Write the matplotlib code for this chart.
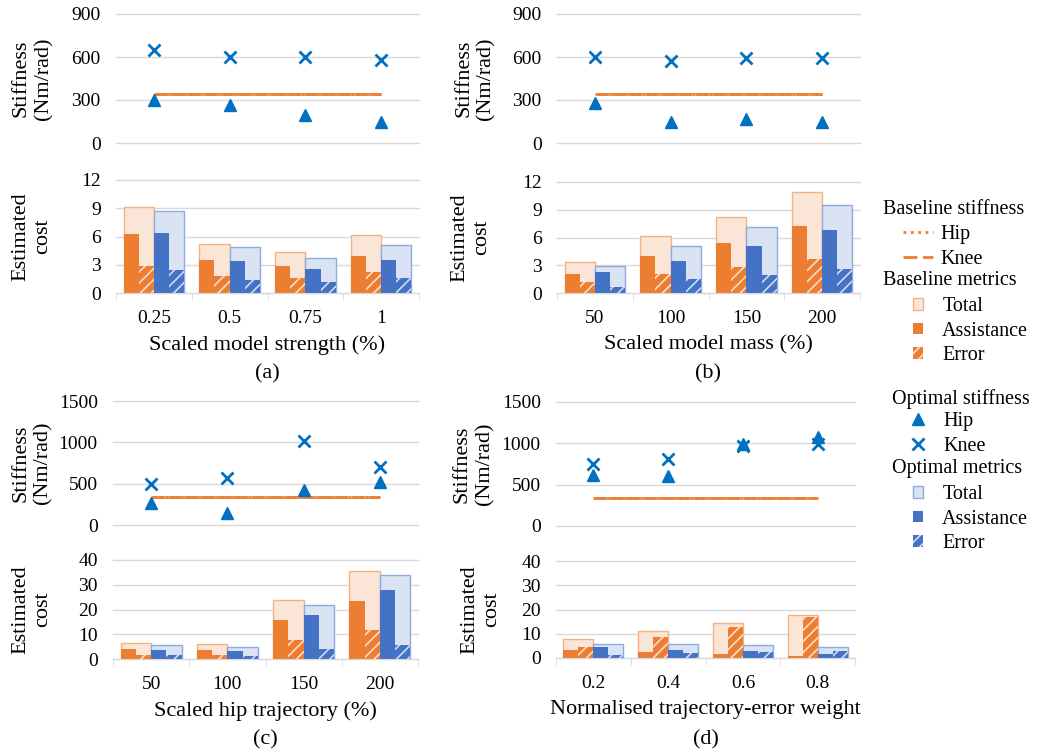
import matplotlib
matplotlib.use("Agg")
import matplotlib.pyplot as plt
from matplotlib.lines import Line2D
from matplotlib.patches import Patch

plt.rcParams['font.family'] = ['Liberation Serif', 'DejaVu Serif']
plt.rcParams['hatch.linewidth'] = 1.2

W, H = 1037, 755

ORANGE = '#ED7D31'
ORANGE_LIGHT = '#FBE5D6'
ORANGE_EDGE = '#F4B183'
BLUE = '#4472C4'
BLUE_LIGHT = '#DAE3F3'
BLUE_EDGE = '#8FAADC'
MARK = '#0070C0'
GRID = '#D9D9D9'
HATCH = (1, 1, 1, 0.75)

# ---- data ----
labels_a = ['0.25', '0.5', '0.75', '1']
labels_b = ['50', '100', '150', '200']
labels_c = ['50', '100', '150', '200']
labels_d = ['0.2', '0.4', '0.6', '0.8']

baseline_hip = [340, 340, 340, 340]
baseline_knee = [340, 340, 340, 340]

hip_a = [298, 267, 195, 144]
knee_a = [650, 600, 600, 580]
hip_b = [280, 150, 170, 150]
knee_b = [600, 575, 590, 590]
hip_c = [261, 149, 422, 523]
knee_c = [495, 567, 1021, 696]
hip_d = [615, 607, 997, 1077]
knee_d = [748, 812, 973, 989]

base_total_a = [9.1, 5.22, 4.34, 6.14]
base_assist_a = [6.25, 3.53, 2.82, 3.95]
base_error_a = [2.82, 1.76, 1.55, 2.19]
opt_total_a = [8.75, 4.87, 3.71, 5.08]
opt_assist_a = [6.35, 3.39, 2.58, 3.46]
opt_error_a = [2.4, 1.41, 1.16, 1.62]

base_total_b = [3.33, 6.13, 8.17, 10.93]
base_assist_b = [2.08, 4.01, 5.38, 7.24]
base_error_b = [1.22, 2.08, 2.8, 3.66]
opt_total_b = [2.97, 5.05, 7.1, 9.46]
opt_assist_b = [2.29, 3.51, 5.09, 6.81]
opt_error_b = [0.65, 1.54, 1.9, 2.58]

base_total_c = [6.4, 6.0, 23.8, 35.4]
base_assist_c = [4.0, 3.8, 15.8, 23.6]
base_error_c = [1.7, 1.7, 7.8, 11.8]
opt_total_c = [5.6, 5.0, 22.0, 33.8]
opt_assist_c = [3.8, 3.4, 17.9, 27.9]
opt_error_c = [1.6, 1.3, 4.0, 5.8]

base_total_d = [7.8, 11.1, 14.4, 17.7]
base_assist_d = [3.4, 2.5, 1.6, 0.8]
base_error_d = [4.4, 8.5, 12.6, 17.1]
opt_total_d = [5.75, 5.75, 5.3, 4.7]
opt_assist_d = [4.5, 3.4, 2.7, 1.5]
opt_error_d = [1.2, 2.2, 2.3, 3.0]


def box(l, t, r, b):
    return [l / W, 1 - b / H, (r - l) / W, (b - t) / H]


def style_axes(ax, ymax, step):
    ax.set_xlim(-0.5, 3.5)
    ax.set_ylim(0, ymax)
    ax.set_yticks(range(0, ymax + 1, step))
    ax.grid(axis='y', color=GRID, lw=1)
    ax.set_axisbelow(True)
    for gl in ax.get_ygridlines():
        gl.set_clip_on(False)
    for s in ax.spines.values():
        s.set_visible(False)
    ax.tick_params(axis='y', length=0, pad=11, labelsize=14)


def panel(top_px, bot_px, labels, hip, knee, bt, ba, be, ot, oa, oe,
          smax, sstep, cmax, cstep, xlabel, tag, ylab_x, tag_y):
    x = list(range(len(labels)))
    ax1 = fig.add_axes(box(*top_px))
    style_axes(ax1, smax, sstep)
    ax1.set_xticks([])
    # hip (dotted) and knee (dashed) baselines overlap and read as one solid line
    ax1.plot(x, baseline_knee, color=ORANGE, lw=2, ls=(0, (5, 1)))
    ax1.plot(x, baseline_hip, color=ORANGE, lw=2, ls=(1, (1, 1)))
    ax1.plot(x, hip, ls='none', marker='^', ms=9, color=MARK)
    ax1.plot(x, knee, ls='none', marker='x', ms=8, mew=2, color=MARK)

    ax2 = fig.add_axes(box(*bot_px))
    style_axes(ax2, cmax, cstep)
    ax2.spines['bottom'].set_visible(True)
    ax2.spines['bottom'].set_color(GRID)
    xb = [i - 0.2 for i in x]
    xo = [i + 0.2 for i in x]
    ax2.bar(xb, bt, width=0.4, color=ORANGE_LIGHT, edgecolor=ORANGE_EDGE, lw=1)
    ax2.bar(xo, ot, width=0.4, color=BLUE_LIGHT, edgecolor=BLUE_EDGE, lw=1)
    ax2.bar([i - 0.3 for i in x], ba, width=0.2, color=ORANGE, lw=0)
    ax2.bar([i - 0.1 for i in x], be, width=0.2, color=ORANGE, edgecolor=HATCH, lw=0, hatch='///')
    ax2.bar([i + 0.1 for i in x], oa, width=0.2, color=BLUE, lw=0)
    ax2.bar([i + 0.3 for i in x], oe, width=0.2, color=BLUE, edgecolor=HATCH, lw=0, hatch='///')
    ax2.set_xticks(x)
    ax2.set_xticklabels(labels, fontsize=14)
    ax2.set_xticks([i - 0.5 for i in range(len(labels) + 1)], minor=True)
    ax2.tick_params(axis='x', which='major', length=0, pad=12)
    ax2.tick_params(axis='x', which='minor', length=5, color=GRID)
    ax2.set_xlabel(xlabel, fontsize=16, labelpad=6)

    l1, t1, r1, b1 = top_px
    l2, t2, r2, b2 = bot_px
    fig.text(ylab_x[0] / W, 1 - (t1 + b1) / 2 / H, 'Stiffness\n(Nm/rad)', rotation=90,
             ha='center', va='center', fontsize=16, linespacing=1.2)
    fig.text(ylab_x[1] / W, 1 - (t2 + b2) / 2 / H, 'Estimated\ncost', rotation=90,
             ha='center', va='center', fontsize=16, linespacing=1.2)
    fig.text((l2 + r2) / 2 / W, 1 - tag_y / H, tag, ha='center', va='center', fontsize=16)


fig = plt.figure(figsize=(W / 100, H / 100), dpi=100)

panel((116, 14, 419, 143), (116, 180, 419, 293), labels_a, hip_a, knee_a,
      base_total_a, base_assist_a, base_error_a, opt_total_a, opt_assist_a, opt_error_a,
      900, 300, 12, 3, 'Scaled model strength (%)', '(a)', (32.5, 32), 374)
panel((557, 14, 860, 143), (557, 182, 860, 293), labels_b, hip_b, knee_b,
      base_total_b, base_assist_b, base_error_b, opt_total_b, opt_assist_b, opt_error_b,
      900, 300, 12, 3, 'Scaled model mass (%)', '(b)', (475, 471), 374)
panel((113, 401, 418, 525), (113, 560, 418, 659), labels_c, hip_c, knee_c,
      base_total_c, base_assist_c, base_error_c, opt_total_c, opt_assist_c, opt_error_c,
      1500, 500, 40, 10, 'Scaled hip trajectory (%)', '(c)', (32, 32), 740)
panel((556, 402, 855, 526), (556, 561, 855, 658), labels_d, hip_d, knee_d,
      base_total_d, base_assist_d, base_error_d, opt_total_d, opt_assist_d, opt_error_d,
      1500, 500, 40, 10, 'Normalised trajectory-error weight', '(d)', (473.5, 481), 740)

# ---- legend ----
LFS = 14.5


def header(txt, x, y):
    fig.text(x / W, 1 - y / H, txt, ha='left', va='center', fontsize=LFS)


def block(handles, names, x, y, hl, hh, pad):
    fig.legend(handles, names, loc='upper left', bbox_to_anchor=(x / W, 1 - y / H),
               frameon=False, fontsize=LFS, handlelength=hl, handleheight=hh,
               handletextpad=pad, labelspacing=0.28, borderpad=0, borderaxespad=0)


header('Baseline stiffness', 883, 209)
block([Line2D([], [], color=ORANGE, lw=2, ls=':'),
       Line2D([], [], color=ORANGE, lw=2, ls=(0, (5, 2)))],
      ['Hip', 'Knee'], 903, 225, 1.5, 0.7, 0.35)
header('Baseline metrics', 883, 281)
block([Patch(facecolor=ORANGE_LIGHT, edgecolor=ORANGE_EDGE, lw=1),
       Patch(facecolor=ORANGE, lw=0),
       Patch(facecolor=ORANGE, edgecolor=HATCH, lw=0, hatch='///')],
      ['Total', 'Assistance', 'Error'], 913, 297, 0.5, 0.5, 0.95)
header('Optimal stiffness', 892, 399)
block([Line2D([], [], ls='none', marker='^', ms=9, color=MARK),
       Line2D([], [], ls='none', marker='x', ms=8, mew=2, color=MARK)],
      ['Hip', 'Knee'], 908, 412, 1.0, 0.7, 0.75)
header('Optimal metrics', 892, 469)
block([Patch(facecolor=BLUE_LIGHT, edgecolor=BLUE_EDGE, lw=1),
       Patch(facecolor=BLUE, lw=0),
       Patch(facecolor=BLUE, edgecolor=HATCH, lw=0, hatch='///')],
      ['Total', 'Assistance', 'Error'], 913, 485, 0.5, 0.5, 0.95)

fig.savefig('out.png', dpi=100)
